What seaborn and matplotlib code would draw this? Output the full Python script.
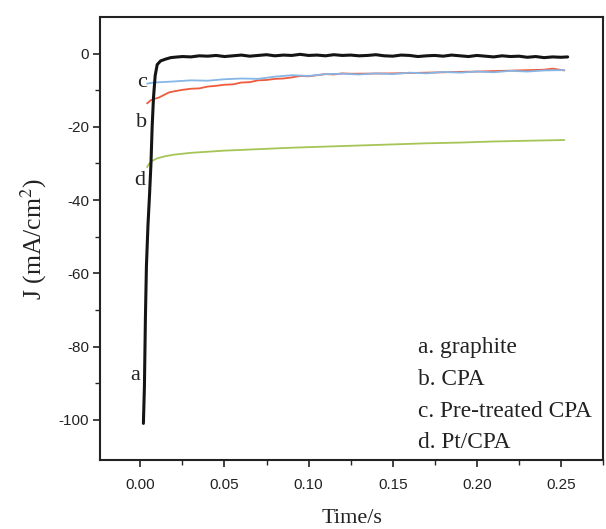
import numpy as np
import pandas as pd
import matplotlib
matplotlib.use("Agg")
import matplotlib.pyplot as plt
from matplotlib.ticker import FixedLocator
import seaborn as sns

# ---- data ----
t_a = [0.0018, 0.0024, 0.0030, 0.0036, 0.0045, 0.0055, 0.0063, 0.0070, 0.0078, 0.0088,
       0.0100, 0.0120, 0.0150, 0.0180,
       0.020, 0.025, 0.030, 0.035, 0.040, 0.045, 0.050, 0.055, 0.060, 0.065,
       0.070, 0.075, 0.080, 0.085, 0.090, 0.095, 0.100, 0.105, 0.110, 0.115,
       0.120, 0.125, 0.130, 0.135, 0.140, 0.145, 0.150, 0.155, 0.160, 0.165,
       0.170, 0.175, 0.180, 0.185, 0.190, 0.195, 0.200, 0.205, 0.210, 0.215,
       0.220, 0.225, 0.230, 0.235, 0.240, 0.245, 0.250, 0.254]
J_a = [-101.0, -91.0, -72.0, -58.0, -47.0, -38.0, -30.0, -20.0, -12.0, -6.0,
       -3.0, -2.0, -1.5, -1.1,
       -1.0, -0.8, -0.9, -0.6, -0.7, -0.5, -0.8, -0.6, -0.4, -0.7,
       -0.5, -0.3, -0.6, -0.4, -0.5, -0.2, -0.5, -0.4, -0.6, -0.3,
       -0.5, -0.4, -0.6, -0.5, -0.3, -0.6, -0.7, -0.4, -0.5, -0.8,
       -0.6, -0.5, -0.7, -0.4, -0.6, -0.8, -0.5, -0.7, -0.9, -0.6,
       -0.8, -0.7, -1.0, -0.8, -1.1, -0.9, -1.0, -0.9]

t_b = [0.004, 0.006, 0.008, 0.011, 0.014, 0.017, 0.020, 0.025, 0.030, 0.035,
       0.040, 0.045, 0.050, 0.055, 0.060, 0.065, 0.070, 0.075, 0.080, 0.085,
       0.090, 0.095, 0.100, 0.105, 0.110, 0.115, 0.120, 0.125, 0.150, 0.200,
       0.240, 0.245, 0.252]
J_b = [-13.6, -12.8, -12.4, -12.0, -11.3, -10.6, -10.3, -9.9, -9.6, -9.5,
       -9.0, -8.8, -8.5, -8.4, -7.9, -7.8, -7.3, -7.2, -6.9, -6.8,
       -6.5, -6.1, -6.2, -5.9, -5.6, -5.7, -5.4, -5.5, -5.4, -4.9,
       -4.4, -4.1, -4.6]

t_c = [0.004, 0.008, 0.012, 0.020, 0.030, 0.040, 0.050, 0.060, 0.070, 0.080,
       0.090, 0.100, 0.110, 0.120, 0.130, 0.140, 0.150, 0.160, 0.170, 0.180,
       0.190, 0.200, 0.210, 0.220, 0.230, 0.240, 0.252]
J_c = [-8.2, -7.9, -7.8, -7.6, -7.3, -7.4, -7.0, -6.8, -6.9, -6.3,
       -5.9, -6.1, -5.6, -5.5, -5.7, -5.4, -5.6, -5.2, -5.4, -5.0,
       -5.2, -4.9, -5.1, -4.7, -4.9, -4.6, -4.5]

t_d = [0.004, 0.005, 0.007, 0.010, 0.015, 0.020, 0.030, 0.040, 0.050, 0.070,
       0.090, 0.110, 0.130, 0.150, 0.170, 0.190, 0.210, 0.230, 0.252]
J_d = [-31.0, -30.2, -29.3, -28.6, -28.0, -27.6, -27.1, -26.8, -26.5, -26.1,
       -25.7, -25.4, -25.1, -24.8, -24.5, -24.3, -24.0, -23.8, -23.6]

curve_labels = ["a", "b", "c", "d"]
legend_lines = ["a. graphite", "b. CPA", "c. Pre-treated CPA", "d. Pt/CPA"]
x_ticks = [0.00, 0.05, 0.10, 0.15, 0.20, 0.25]
x_minor = [-0.025, 0.025, 0.075, 0.125, 0.175, 0.225, 0.275]
y_ticks = [0, -20, -40, -60, -80, -100]
y_minor = [-10, -30, -50, -70, -90]

# ---- plotting ----
sns.set_style("ticks")
plt.rcParams["font.family"] = ["Liberation Sans", "DejaVu Sans"]
plt.rcParams["mathtext.fontset"] = "stix"

fig = plt.figure(figsize=(6.06, 5.29), dpi=100)
ax = fig.add_axes([100 / 606, 69 / 529, 503 / 606, 443 / 529])

series = [
    (t_b, J_b, "#ef5a3c", 1.3),
    (t_c, J_c, "#86b6e6", 1.3),
    (t_d, J_d, "#a5c656", 1.3),
    (t_a, J_a, "#141414", 2.2),
]
for t, J, col, lw in series:
    df = pd.DataFrame({"t": t, "J": J})
    sns.lineplot(data=df, x="t", y="J", ax=ax, color=col, linewidth=lw,
                 sort=False, estimator=None)

ax.set_xlim(-0.024, 0.275)
ax.set_ylim(-111, 10)
ax.set_xticks(x_ticks)
ax.set_xticklabels([f"{v:.2f}" for v in x_ticks])
ax.set_yticks(y_ticks)
ax.set_yticklabels([str(v) for v in y_ticks])
ax.xaxis.set_minor_locator(FixedLocator(x_minor))
ax.yaxis.set_minor_locator(FixedLocator(y_minor))
ax.tick_params(which="major", direction="out", length=5, width=1.2,
               labelsize=11, colors="#222222")
ax.tick_params(axis="x", which="major", pad=8)
ax.tick_params(axis="y", which="major", pad=3)
ax.tick_params(which="minor", direction="out", length=3.5, width=1.0)
for sp in ax.spines.values():
    sp.set_visible(True)
    sp.set_linewidth(1.5)
    sp.set_color("#222222")

serif = ["Liberation Serif", "DejaVu Serif"]
ax.set_xlabel("Time/s", fontsize=16, family=serif, labelpad=12, color="#222222")
ax.set_ylabel("J (mA/cm$^{2}$)", fontsize=18.5, family=serif, labelpad=7,
              color="#222222")

# curve labels
lab_pos = [(-0.0028, -87.8), (0.0005, -18.8), (0.0011, -7.9), (-0.0005, -34.6)]
for lab, (x, y) in zip(curve_labels, lab_pos):
    ax.text(x, y, lab, fontsize=16, family=serif, ha="center", va="center",
            color="#222222")

# legend text block
for i, s in enumerate(legend_lines):
    ax.text(0.632, 0.253 - i * 0.0715, s, transform=ax.transAxes, fontsize=16.8,
            family=serif, ha="left", va="center", color="#222222")

fig.savefig("out.png", dpi=100)
